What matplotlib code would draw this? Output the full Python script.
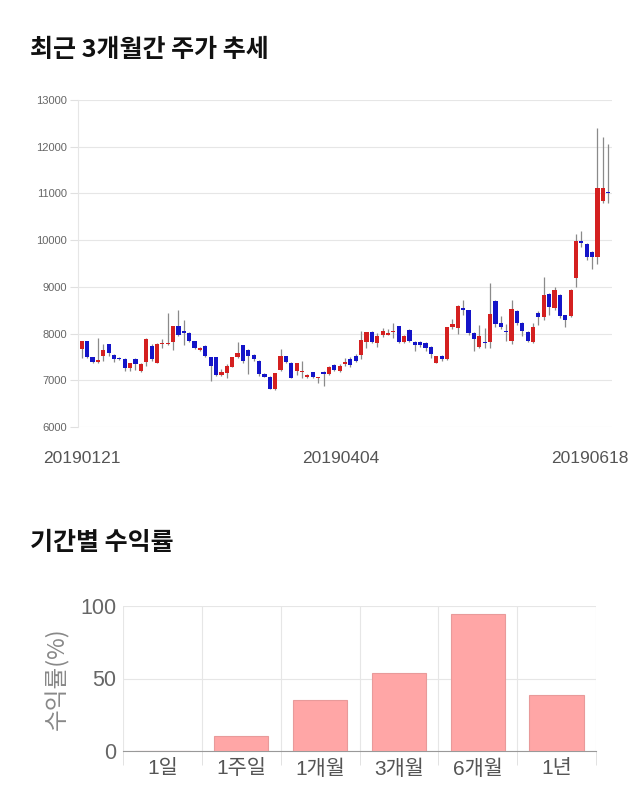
import numpy as np
import matplotlib
matplotlib.use("Agg")
from matplotlib import pyplot as plt
from matplotlib.transforms import ScaledTranslation

plt.rcParams['font.family'] = ['Liberation Sans', 'Noto Sans CJK KR', 'DejaVu Sans']
KR = ['Noto Sans CJK KR', 'DejaVu Sans']

# daily candles, 20190121 .. 20190618
opens = [7680, 7840, 7490, 7390, 7510, 7770, 7540, 7470, 7460, 7260,
         7460, 7200, 7390, 7740, 7380, 7770, 7770, 7810, 8160, 8040,
         8020, 7840, 7640, 7740, 7490, 7490, 7110, 7150, 7290, 7490,
         7750, 7650, 7540, 7420, 7130, 7080, 6810, 7220, 7510, 7380,
         7200, 7170, 7060, 7170, 7040, 7170, 7140, 7320, 7200, 7340,
         7460, 7510, 7540, 7820, 8030, 7790, 7970, 7980, 8040, 8160,
         7820, 8080, 7830, 7830, 7800, 7720, 7380, 7520, 7450, 8150,
         8110, 8550, 8500, 8010, 7720, 7810, 7810, 8700, 8230, 8040,
         7840, 8480, 8230, 8030, 7820, 8430, 8360, 8840, 8540, 8820,
         8390, 8370, 9180, 9990, 9910, 9740, 9630, 10840, 11040]
closes = [7840, 7490, 7390, 7430, 7650, 7580, 7460, 7460, 7260, 7360,
          7340, 7340, 7890, 7450, 7770, 7770, 7780, 8160, 7960, 8020,
          7840, 7700, 7700, 7530, 7310, 7110, 7170, 7300, 7490, 7580,
          7410, 7510, 7450, 7130, 7080, 6820, 7150, 7510, 7400, 7050,
          7360, 7170, 7110, 7070, 7070, 7130, 7290, 7220, 7300, 7400,
          7320, 7410, 7870, 8030, 7810, 7940, 8050, 8010, 8040, 7820,
          7940, 7840, 7750, 7760, 7690, 7560, 7510, 7450, 8130, 8200,
          8600, 8500, 8010, 7880, 7950, 7800, 8410, 8200, 8130, 8030,
          8520, 8230, 8060, 7840, 8130, 8360, 8820, 8570, 8930, 8370,
          8290, 8930, 9990, 9930, 9630, 9630, 11110, 11110, 11000]
highs = [7850, 7850, 7500, 7900, 7770, 7780, 7560, 7490, 7470, 7380,
         7480, 7360, 7900, 7780, 7800, 7880, 8450, 8170, 8500, 8300,
         8030, 7850, 7720, 7750, 7500, 7500, 7250, 7350, 7500, 7830,
         7760, 7680, 7560, 7430, 7150, 7090, 7160, 7680, 7530, 7390,
         7380, 7420, 7130, 7180, 7080, 7190, 7300, 7350, 7340, 7480,
         7490, 7560, 8050, 8040, 8050, 8010, 8120, 8100, 8220, 8170,
         7960, 8100, 7850, 7850, 7820, 7730, 7520, 7540, 8140, 8310,
         8620, 8720, 8510, 8030, 8180, 8110, 9090, 8720, 8380, 8200,
         8720, 8500, 8250, 8050, 8230, 8480, 9210, 8870, 8990, 8840,
         8400, 8950, 10130, 10200, 9930, 9760, 12390, 12200, 12060]
lows = [7480, 7480, 7370, 7370, 7410, 7520, 7400, 7440, 7200, 7200,
        7230, 7180, 7310, 7420, 7370, 7700, 7750, 7650, 7940, 7750,
        7820, 7680, 7620, 7500, 6990, 7100, 7090, 7040, 7280, 7480,
        7380, 7130, 7420, 7100, 7060, 6810, 6800, 7200, 7370, 7040,
        7120, 7050, 7040, 7050, 6940, 6870, 7120, 7200, 7180, 7310,
        7280, 7400, 7460, 7700, 7790, 7720, 7920, 7960, 7900, 7800,
        7800, 7820, 7620, 7720, 7620, 7480, 7360, 7420, 7430, 8100,
        8000, 8400, 7970, 7620, 7700, 7700, 7700, 8150, 8100, 7850,
        7780, 8180, 7950, 7820, 7800, 8190, 8300, 8400, 8500, 8340,
        8150, 8350, 9000, 9850, 9570, 9380, 9490, 10790, 10790]
date_labels = ['20190121', '20190404', '20190618']
date_idx = [0, 49, 98]

periods = ['1일', '1주일', '1개월', '3개월', '6개월', '1년']
returns = [0.0, 10.4, 35.1, 53.7, 94.7, 38.6]

fig = plt.figure(figsize=(6.4, 8.1), dpi=100)

# ---- candlestick chart
ax = fig.add_axes([78/640, 1-427/810, 534/640, 327/810])
x = np.arange(len(opens))
o = np.array(opens); c = np.array(closes)
up = c >= o
cols = np.where(up, '#D42020', '#1414C8')
ax.vlines(x, lows, highs, color='#8a8a8a', lw=0.9, zorder=2)
bottom = np.minimum(o, c)
height = np.maximum(np.abs(c - o), 25)
ax.bar(x, height, bottom=bottom, width=0.78, color=cols, zorder=3, linewidth=0)

ax.set_xlim(-0.7, len(opens) - 0.3)
ax.set_ylim(6000, 13000)
ax.set_yticks(np.arange(6000, 13001, 1000))
ax.grid(axis='y', color='#e6e6e6', lw=0.8)
ax.set_axisbelow(True)
for s in ['top', 'right', 'bottom']:
    ax.spines[s].set_visible(False)
ax.spines['left'].set_color('#e6e6e6')
ax.tick_params(axis='y', labelsize=8, colors='#666666', length=6, width=0.8, pad=2)
ax.tick_params(axis='y', color='#e0e0e0')
ax.set_xticks(date_idx)
ax.set_xticklabels(date_labels, fontsize=12.5, color='#555555')
ax.tick_params(axis='x', length=0, pad=17)
lbls = ax.get_xticklabels()
lbls[1].set_transform(lbls[1].get_transform() + ScaledTranslation(-0.04, 0, fig.dpi_scale_trans))
lbls[-1].set_transform(lbls[-1].get_transform() + ScaledTranslation(-0.18, 0, fig.dpi_scale_trans))

fig.text(30/640, 1-50/810, '최근 3개월간 주가 추세', fontsize=18, fontweight='bold',
         va='center', ha='left', color='#111111', family=KR)

# ---- period returns
ax2 = fig.add_axes([123/640, 1-751/810, 473/640, 145/810])
xb = np.arange(len(periods))
ax2.bar(xb, returns, width=0.69, color='#FFA6A6', edgecolor='#e89a9a', lw=0.8, zorder=3)
ax2.set_xlim(-0.5, len(periods) - 0.5)
ax2.set_ylim(0, 100)
ax2.set_yticks([0, 50, 100])
ax2.set_xticks(xb)
ax2.set_xticklabels(periods, fontsize=15, color='#555555')
ax2.set_xticks(np.arange(-0.5, len(periods), 1), minor=True)
ax2.tick_params(axis='x', which='major', length=0, pad=6)
ax2.tick_params(axis='x', which='minor', length=10, color='#dddddd')
ax2.grid(axis='x', which='minor', color='#e6e6e6', lw=0.8)
ax2.grid(axis='y', color='#e6e6e6', lw=0.8)
ax2.set_axisbelow(True)
ax2.tick_params(axis='y', labelsize=15.5, colors='#666666', length=0, pad=5)
for s in ['top', 'right', 'left']:
    ax2.spines[s].set_visible(False)
ax2.spines['bottom'].set_color('#999999')
ax2.set_ylabel('수익률(%)', fontsize=17, color='#888888', labelpad=8, family=KR)

fig.text(30/640, 1-543/810, '기간별 수익률', fontsize=18, fontweight='bold',
         va='center', ha='left', color='#111111', family=KR)

fig.savefig('out.png', dpi=100)
